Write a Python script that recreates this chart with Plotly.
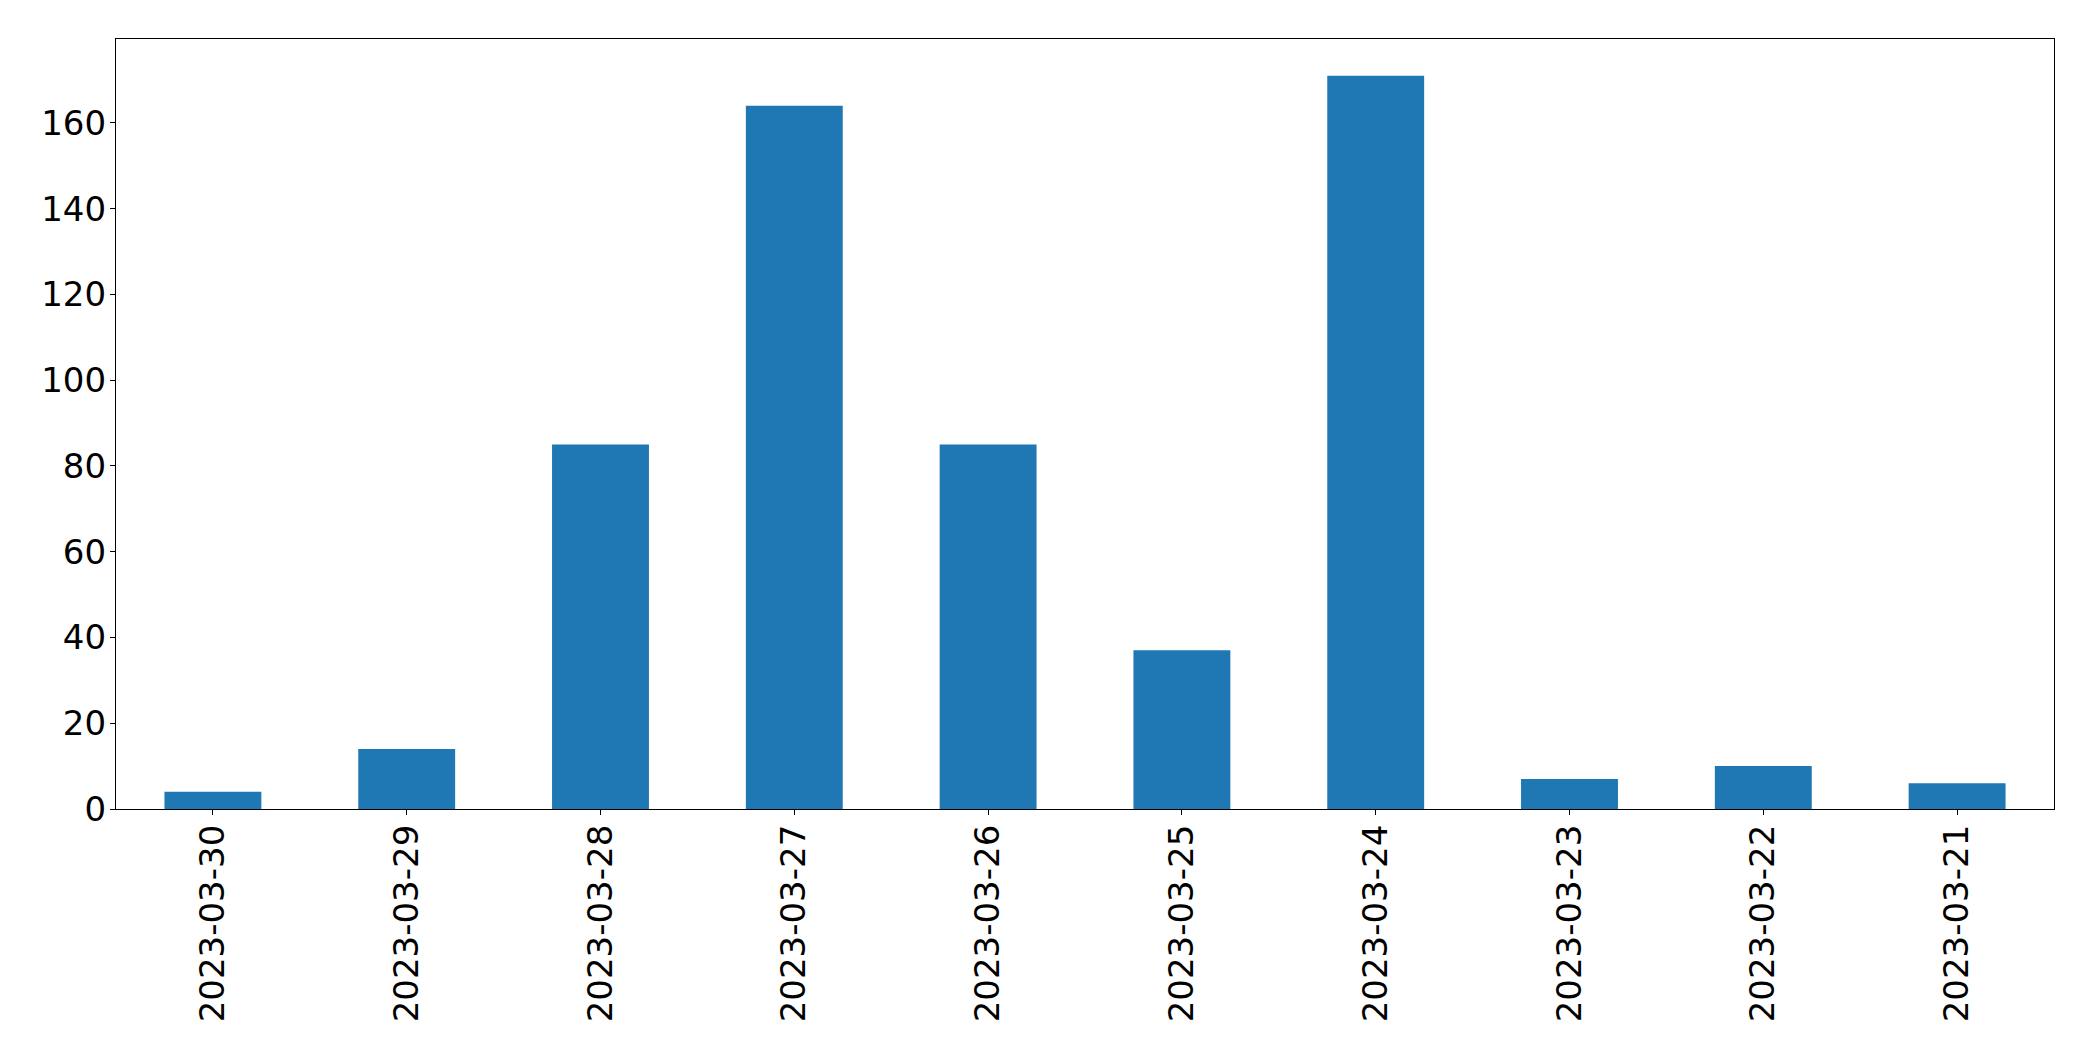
import plotly.graph_objects as go

dates = ["2023-03-30", "2023-03-29", "2023-03-28", "2023-03-27", "2023-03-26",
         "2023-03-25", "2023-03-24", "2023-03-23", "2023-03-22", "2023-03-21"]
counts = [4, 14, 85, 164, 85, 37, 171, 7, 10, 6]

fig = go.Figure(go.Bar(x=dates, y=counts, width=0.5, marker_color="#1f77b4",
                       marker_line_width=0))

font = dict(family="DejaVu Sans", size=34, color="black")
fig.update_layout(
    width=2093, height=1061,
    margin=dict(l=108, r=47, t=31, b=260, pad=0),
    paper_bgcolor="white", plot_bgcolor="white",
    showlegend=False, font=font,
)
fig.update_xaxes(type="category", range=[-0.5, len(dates) - 0.5],
                 showline=True, linecolor="black", linewidth=1.3, mirror=True,
                 ticks="outside", ticklen=5, tickwidth=1.3, tickcolor="black",
                 tickangle=-90, tickfont=font, showgrid=False, zeroline=False,
                 ticklabelstandoff=-4)
fig.update_yaxes(range=[0, max(counts) * 1.05], tickvals=[0, 20, 40, 60, 80, 100, 120, 140, 160],
                 showline=True, linecolor="black", linewidth=1.3, mirror=True,
                 ticks="outside", ticklen=5, tickwidth=1.3, tickcolor="black",
                 tickfont=font, showgrid=False, zeroline=False,
                 ticklabelstandoff=-3)

fig.write_html("out.html")
